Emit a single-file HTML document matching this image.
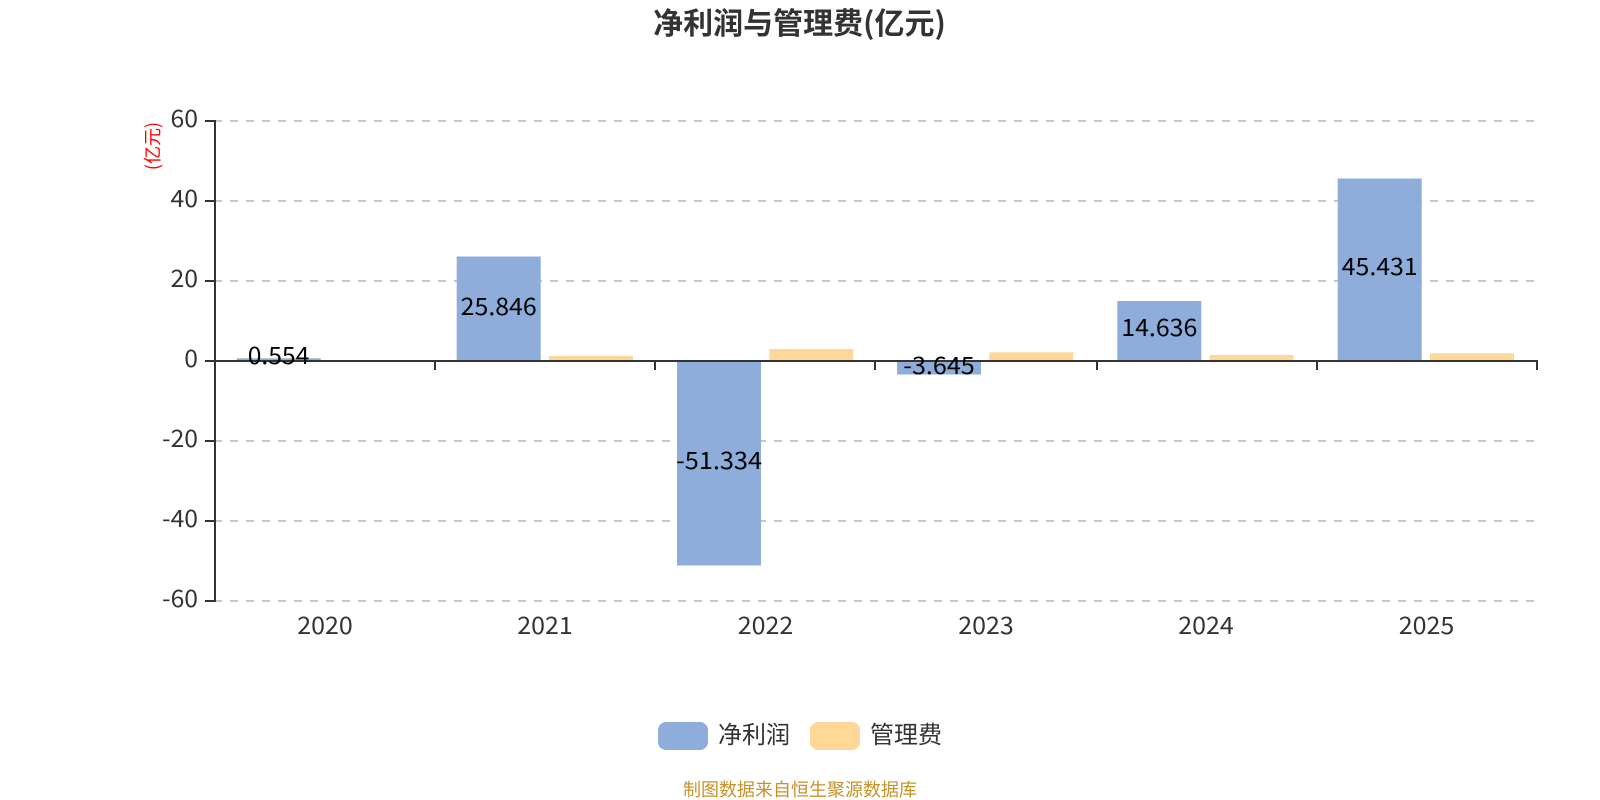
<!DOCTYPE html>
<html><head><meta charset="utf-8"><style>
html,body{margin:0;padding:0;background:#fff;width:1600px;height:800px;overflow:hidden}
svg{display:block}
text{font-family:"Noto Sans CJK SC","Liberation Sans",sans-serif}
</style></head><body>
<svg width="1600" height="800" viewBox="0 0 1600 800" xmlns="http://www.w3.org/2000/svg">
<rect width="1600" height="800" fill="#fff"/>
<text x="799.5" y="34" text-anchor="middle" font-size="30" font-weight="700" fill="#333">净利润与管理费(亿元)</text>
<g stroke="#c8c8c8" stroke-width="2" stroke-dasharray="8 8" fill="none">
<path d="M214 121H1537M214 201H1537M214 281H1537M214 441H1537M214 521H1537M214 601H1537"/>
</g>
<g fill="#8eadda">
<rect x="236.7" y="358.3" width="84" height="2.7"/>
<rect x="456.7" y="256.5" width="84" height="104.5"/>
<rect x="677" y="361" width="84" height="204.5"/>
<rect x="897" y="361" width="84" height="13.5"/>
<rect x="1117.3" y="301" width="84" height="60"/>
<rect x="1337.7" y="178.5" width="84" height="182.5"/>
</g>
<g fill="#ffd898">
<rect x="549" y="356" width="84" height="5"/>
<rect x="769.3" y="349" width="84" height="12"/>
<rect x="989.3" y="352.3" width="84" height="8.7"/>
<rect x="1209.6" y="355" width="84" height="6"/>
<rect x="1430" y="353.3" width="84" height="7.7"/>
</g>
<g stroke="#333" stroke-width="2" fill="none">
<path d="M215 120V602"/>
<path d="M205 121H215M205 201H215M205 281H215M205 361H215M205 441H215M205 521H215M205 601H215"/>
<path d="M215 361H1538"/>
<path d="M435 361V370M655 361V370M875 361V370M1097 361V370M1317 361V370M1537 360V370"/>
</g>
<g font-size="24" fill="#333" text-anchor="end" lengthAdjust="spacingAndGlyphs">
<text x="198" y="127" textLength="27.5" lengthAdjust="spacingAndGlyphs">60</text>
<text x="198" y="207" textLength="27.5" lengthAdjust="spacingAndGlyphs">40</text>
<text x="198" y="287" textLength="27.5" lengthAdjust="spacingAndGlyphs">20</text>
<text x="198" y="367" textLength="13.7" lengthAdjust="spacingAndGlyphs">0</text>
<text x="198" y="447" textLength="36" lengthAdjust="spacingAndGlyphs">-20</text>
<text x="198" y="527" textLength="36" lengthAdjust="spacingAndGlyphs">-40</text>
<text x="198" y="607" textLength="36" lengthAdjust="spacingAndGlyphs">-60</text>
</g>
<g font-size="24" fill="#333" text-anchor="middle">
<text x="325" y="634" textLength="55.5" lengthAdjust="spacingAndGlyphs">2020</text>
<text x="545" y="634" textLength="55.5" lengthAdjust="spacingAndGlyphs">2021</text>
<text x="765.5" y="634" textLength="55.5" lengthAdjust="spacingAndGlyphs">2022</text>
<text x="986" y="634" textLength="55.5" lengthAdjust="spacingAndGlyphs">2023</text>
<text x="1206" y="634" textLength="55.5" lengthAdjust="spacingAndGlyphs">2024</text>
<text x="1426.5" y="634" textLength="55.5" lengthAdjust="spacingAndGlyphs">2025</text>
</g>
<g font-size="24" fill="#000" text-anchor="middle">
<text x="278.5" y="364" textLength="61.5" lengthAdjust="spacingAndGlyphs">0.554</text>
<text x="498.7" y="315" textLength="76" lengthAdjust="spacingAndGlyphs">25.846</text>
<text x="719" y="469" textLength="86" lengthAdjust="spacingAndGlyphs">-51.334</text>
<text x="939" y="374" textLength="71.5" lengthAdjust="spacingAndGlyphs">-3.645</text>
<text x="1159.3" y="336" textLength="76" lengthAdjust="spacingAndGlyphs">14.636</text>
<text x="1379.7" y="275" textLength="76" lengthAdjust="spacingAndGlyphs">45.431</text>
</g>
<text transform="translate(159,146) rotate(-90)" font-size="18" fill="#f00" text-anchor="middle">(亿元)</text>
<rect x="658" y="722" width="50" height="28" rx="8" fill="#8eadda"/>
<text x="718" y="743" font-size="24" fill="#333">净利润</text>
<rect x="810" y="722" width="50" height="28" rx="8" fill="#ffd898"/>
<text x="870" y="743" font-size="24" fill="#333">管理费</text>
<text x="800" y="796" font-size="18" fill="#c8922a" text-anchor="middle">制图数据来自恒生聚源数据库</text>
</svg>
</body></html>
